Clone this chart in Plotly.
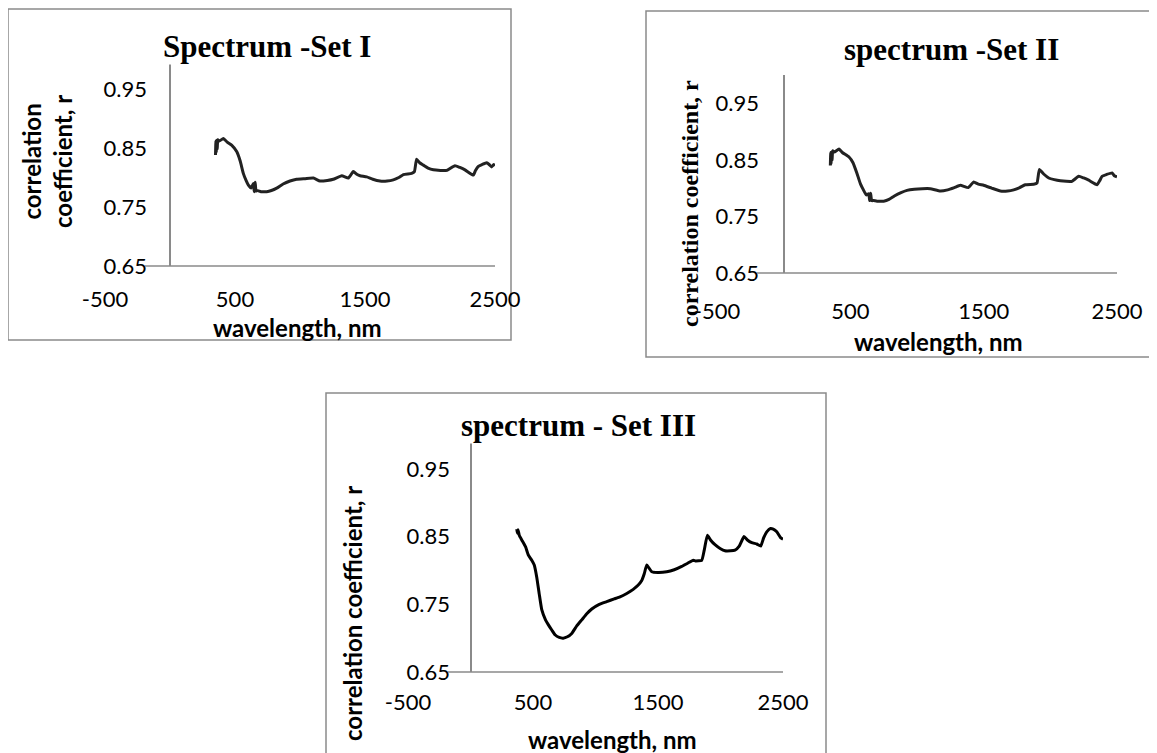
import plotly.graph_objects as go

# page body has an 8px default margin: the figure is sized/positioned to compensate
OFF = 8
W, H = 1157 - OFF, 753 - OFF

# ---------------- data ----------------
x_ticks = [-500, 500, 1500, 2500]
x_tick_labels = ["-500", "500", "1500", "2500"]
y_ticks = [0.65, 0.75, 0.85, 0.95]
y_tick_labels = ["0.65", "0.75", "0.85", "0.95"]

wl_set1 = [350, 353, 356, 359, 363, 368, 380, 410, 440, 474, 513, 540, 564, 585, 603, 625, 641, 648, 655, 662,
           670, 700, 744, 780, 821, 870, 923, 974, 1040, 1103, 1154, 1210, 1256, 1321, 1372, 1410, 1440, 1462, 1513, 1560,
           1615, 1670, 1718, 1760, 1795, 1859, 1880, 1897, 1920, 1949, 1985, 2026, 2080, 2128, 2192, 2230, 2269, 2333, 2350, 2372,
           2400, 2436, 2455, 2474, 2490, 2500]
r_set1 = [0.838, 0.862, 0.842, 0.863, 0.848, 0.864, 0.862, 0.866, 0.860, 0.855, 0.844, 0.828, 0.807, 0.795, 0.787, 0.782, 0.790, 0.776, 0.792, 0.777,
          0.778, 0.776, 0.776, 0.778, 0.782, 0.789, 0.794, 0.797, 0.798, 0.799, 0.794, 0.795, 0.797, 0.803, 0.799, 0.810, 0.805, 0.803, 0.801, 0.797,
          0.794, 0.794, 0.796, 0.800, 0.805, 0.807, 0.810, 0.831, 0.825, 0.821, 0.816, 0.813, 0.812, 0.812, 0.820, 0.817, 0.813, 0.804, 0.812, 0.819,
          0.822, 0.825, 0.822, 0.818, 0.822, 0.820]

wl_set2 = [350, 353, 356, 359, 363, 368, 380, 415, 440, 490, 520, 550, 575, 600, 620, 638, 645, 652, 660, 674,
           700, 750, 790, 830, 880, 925, 980, 1040, 1100, 1175, 1230, 1280, 1325, 1385, 1425, 1460, 1500, 1560, 1625, 1680,
           1725, 1770, 1812, 1875, 1900, 1918, 1950, 1988, 2030, 2075, 2120, 2162, 2213, 2250, 2288, 2350, 2370, 2388, 2420, 2463,
           2480, 2500]
r_set2 = [0.840, 0.863, 0.843, 0.864, 0.849, 0.866, 0.864, 0.869, 0.863, 0.855, 0.845, 0.826, 0.808, 0.796, 0.788, 0.790, 0.778, 0.791, 0.778, 0.778,
          0.777, 0.777, 0.780, 0.786, 0.792, 0.796, 0.798, 0.799, 0.799, 0.795, 0.797, 0.801, 0.805, 0.801, 0.811, 0.807, 0.805, 0.800, 0.795, 0.795,
          0.797, 0.801, 0.806, 0.807, 0.809, 0.833, 0.825, 0.818, 0.815, 0.813, 0.812, 0.812, 0.821, 0.818, 0.814, 0.806, 0.813, 0.821, 0.824, 0.827,
          0.822, 0.820]

wl_set3 = [370, 375, 380, 390, 410, 440, 462, 490, 510, 530, 550, 570, 600, 622, 650, 676, 710, 742, 775, 810,
           850, 890, 930, 970, 1030, 1090, 1150, 1196, 1250, 1302, 1340, 1370, 1390, 1410, 1430, 1450, 1500, 1570, 1630, 1690,
           1740, 1782, 1800, 1850, 1870, 1895, 1920, 1956, 2000, 2036, 2080, 2116, 2150, 2188, 2215, 2250, 2290, 2322, 2345, 2370,
           2400, 2422, 2450, 2482, 2500]
r_set3 = [0.861, 0.855, 0.860, 0.852, 0.845, 0.835, 0.823, 0.815, 0.808, 0.790, 0.765, 0.742, 0.727, 0.720, 0.712, 0.705, 0.701, 0.700, 0.702, 0.707,
          0.718, 0.727, 0.736, 0.743, 0.750, 0.754, 0.758, 0.761, 0.766, 0.772, 0.778, 0.785, 0.795, 0.808, 0.803, 0.798, 0.797, 0.798, 0.801, 0.806,
          0.811, 0.815, 0.814, 0.815, 0.830, 0.852, 0.845, 0.838, 0.832, 0.829, 0.829, 0.830, 0.836, 0.850, 0.845, 0.841, 0.839, 0.836, 0.848, 0.857,
          0.862, 0.861, 0.857, 0.848, 0.846]

titles = ["Spectrum -Set I", "spectrum -Set II", "spectrum - Set III"]
x_title = "wavelength, nm"
y_title = "correlation coefficient, r"

# ---------------- layout helpers (page pixels -> paper fractions) ----------------
def px_x(v):
    return (v - OFF) / W

def px_y(v):
    return 1 - (v - OFF) / H

SANS = "Lato, Calibri, Carlito, sans-serif"
SERIF = "Liberation Serif, Times New Roman, serif"
AXIS_GRAY = "#8a8a8a"
TICK_FONT = dict(family=SANS, size=22, color="#000000")

# plot areas in page pixels: (left, right, top, bottom)
areas = [(105, 495, 59.5, 266), (717, 1117, 75, 273), (408, 783, 435, 672)]
x_standoff = [18, 23, 15]

fig = go.Figure()
series = [(wl_set1, r_set1, "#222222"), (wl_set2, r_set2, "#222222"), (wl_set3, r_set3, "#000000")]

layout = dict(
    template="none",
    width=W, height=H, margin=dict(l=0, r=0, t=0, b=0, pad=0), autosize=False,
    paper_bgcolor="white", plot_bgcolor="rgba(0,0,0,0)", showlegend=False,
)
shapes = []
annotations = []

for i, ((l, r, t, b), (xs, ys, col)) in enumerate(zip(areas, series)):
    n = "" if i == 0 else str(i + 1)
    fig.add_trace(go.Scatter(x=xs, y=ys, mode="lines", line=dict(color=col, width=3, shape="spline", smoothing=0.4),
                             xaxis="x" + n, yaxis="y" + n, hoverinfo="skip"))
    layout["xaxis" + n] = dict(
        domain=[px_x(l), px_x(r)], anchor="y" + n, range=[-500, 2500],
        tickmode="array", tickvals=x_ticks, ticktext=x_tick_labels,
        showgrid=False, zeroline=True, zerolinecolor=AXIS_GRAY, zerolinewidth=1.5,
        showline=False, ticks="", tickfont=TICK_FONT, ticklabelstandoff=x_standoff[i],
        automargin=False, fixedrange=True,
    )
    layout["yaxis" + n] = dict(
        domain=[px_y(b), px_y(t)], anchor="x" + n, range=[0.65, 1.0],
        tickmode="array", tickvals=y_ticks, ticktext=y_tick_labels,
        showgrid=False, zeroline=False, showline=False, ticks="",
        tickfont=TICK_FONT, ticklabelstandoff=-43, automargin=False, fixedrange=True,
    )
    # horizontal axis line (starts right after the 0.65 label)
    shapes.append(dict(type="line", xref="x" + n + " domain", yref="y" + n + " domain",
                       x0=(40 / (r - l)), x1=1, y0=0, y1=0, line=dict(color=AXIS_GRAY, width=1.5)))

# panel borders (page pixels)
borders = [(8, 511, 9, 340), (646, 1155, 11, 357), (326, 826, 393, 800)]
for (x0, x1, y0, y1) in borders:
    shapes.append(dict(type="rect", xref="paper", yref="paper", x0=px_x(x0), x1=px_x(x1),
                       y0=px_y(y1), y1=px_y(y0), line=dict(color=AXIS_GRAY, width=1.5), layer="below"))

# chart titles
title_pos = [(267, 47), (951, 49), (578, 425)]
for txt, (cx, cy) in zip(titles, title_pos):
    annotations.append(dict(text="<b>%s</b>" % txt, x=px_x(cx), y=px_y(cy), xref="paper", yref="paper",
                            showarrow=False, xanchor="center", yanchor="middle",
                            font=dict(family=SERIF, size=31, color="#000000"), bgcolor="white", borderpad=0))

# x-axis titles
xt_pos = [(297, 327), (938, 342), (612, 739)]
for (cx, cy) in xt_pos:
    annotations.append(dict(text="<b>%s</b>" % x_title, x=px_x(cx), y=px_y(cy), xref="paper", yref="paper",
                            showarrow=False, xanchor="center", yanchor="middle",
                            font=dict(family=SANS, size=24, color="#000000")))

# y-axis titles
annotations.append(dict(text="<b>correlation<br>coefficient, r</b>", x=px_x(47), y=px_y(162), xref="paper", yref="paper",
                        showarrow=False, xanchor="center", yanchor="middle", textangle=-90,
                        font=dict(family=SANS, size=24, color="#000000")))
annotations.append(dict(text="<b>%s</b>" % y_title, x=px_x(690), y=px_y(204), xref="paper", yref="paper",
                        showarrow=False, xanchor="center", yanchor="middle", textangle=-90,
                        font=dict(family=SERIF, size=24, color="#000000")))
annotations.append(dict(text="<b>%s</b>" % y_title, x=px_x(352), y=px_y(614), xref="paper", yref="paper",
                        showarrow=False, xanchor="center", yanchor="middle", textangle=-90,
                        font=dict(family=SANS, size=24, color="#000000")))

layout["shapes"] = shapes
layout["annotations"] = annotations
fig.update_layout(**layout)
fig.write_html("out.html", config=dict(displayModeBar=False))
